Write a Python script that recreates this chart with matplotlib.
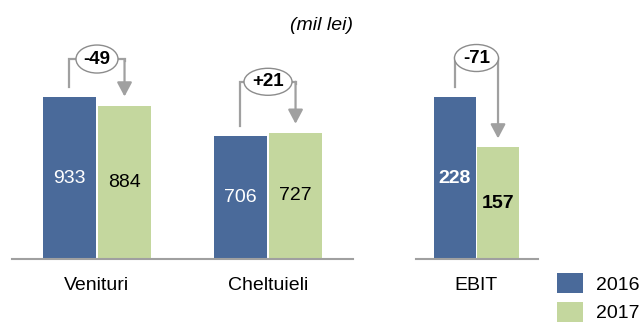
import matplotlib
matplotlib.use('Agg')
import matplotlib.pyplot as plt
from matplotlib.patches import Ellipse
from matplotlib.transforms import ScaledTranslation

plt.rcParams['font.family'] = ['Liberation Sans', 'DejaVu Sans']

# valori (mil lei)
cat_main = ['Venituri', 'Cheltuieli']
v2016_main = [933, 706]
v2017_main = [884, 727]
diff_main = ['-49', '+21']

cat_ebit = ['EBIT']
v2016_ebit = [228]
v2017_ebit = [157]
diff_ebit = ['-71']

years = ['2016', '2017']

BLUE = '#4A6A9A'
GREEN = '#C4D79E'
GRAY = '#A0A0A0'

W, H = 643, 324
DPI = 100

fig = plt.figure(figsize=(W / DPI, H / DPI), dpi=DPI)


def px_axes(x0, x1, ybase, ytop):
    # axes placed in pixel coordinates (y measured from top)
    return fig.add_axes([x0 / W, (H - ybase) / H, (x1 - x0) / W, (ybase - ytop) / H])


def style(ax):
    for s in ['top', 'right', 'left']:
        ax.spines[s].set_visible(False)
    ax.spines['bottom'].set_color(GRAY)
    ax.spines['bottom'].set_linewidth(1.5)
    ax.set_yticks([])
    ax.tick_params(axis='x', length=0, pad=13, labelsize=14)


def py(ax, px):
    # convert a pixel height into data units of the given axes
    h = ax.get_position().height * H
    lo, hi = ax.get_ylim()
    return px * (hi - lo) / h


def bracket(ax, x1, x2, y1, y2, top_px, text, ew, eh):
    ya = y1 + py(ax, 10)
    yb = y2 + py(ax, 9)
    yt = max(y1, y2) + py(ax, top_px)
    ax.plot([x1, x1, x2, x2], [ya, yt, yt, yt - py(ax, 2)], color=GRAY, lw=1.6,
            solid_joinstyle='miter', zorder=3)
    ax.annotate('', xy=(x2, yb), xytext=(x2, yt),
                arrowprops=dict(arrowstyle='-|>,head_width=0.45,head_length=0.85',
                                color=GRAY, lw=1.6, shrinkA=0, shrinkB=0,
                                mutation_scale=10), zorder=3)
    xm = (x1 + x2) / 2
    tr = fig.dpi_scale_trans + ScaledTranslation(xm, yt, ax.transData)
    ax.add_patch(Ellipse((0, 0), ew / DPI, eh / DPI, transform=tr, fc='white',
                         ec='#8C8C8C', lw=1.0, zorder=4, clip_on=False))
    ax.text(xm, yt, text, ha='center', va='center', fontsize=13.5,
            fontweight='bold', zorder=5)


def draw(ax, cats, a, b, diffs, width, off, labels_bold, tops, ells):
    xs = list(range(len(cats)))
    b1 = ax.bar([x - off for x in xs], a, width, color=BLUE, zorder=2)
    b2 = ax.bar([x + off for x in xs], b, width, color=GREEN, zorder=2)
    fw = 'bold' if labels_bold else 'normal'
    for x, va, vb, d, t, e in zip(xs, a, b, diffs, tops, ells):
        ax.text(x - off, va / 2, str(va), ha='center', va='center', color='white',
                fontsize=14, fontweight=fw, zorder=3)
        ax.text(x + off, vb / 2, str(vb), ha='center', va='center', color='black',
                fontsize=14, fontweight=fw, zorder=3)
        bracket(ax, x - off, x + off, va, vb, t, d, *e)
    ax.set_xticks(xs)
    ax.set_xticklabels(cats)
    return b1, b2


ax1 = px_axes(12, 353, 259, 20)
ax1.set_xlim(-0.497, 1.497)
ax1.set_ylim(0, 239 / 0.1736)
style(ax1)
h1, h2 = draw(ax1, cat_main, v2016_main, v2017_main, diff_main, 0.31, 0.161, False,
              [38, 51], [(42, 28), (48, 27)])

ax2 = px_axes(416, 538, 259, 20)
ax2.set_xlim(-0.354, 0.36)
ax2.set_ylim(0, 239 / 0.7105)
style(ax2)
draw(ax2, cat_ebit, v2016_ebit, v2017_ebit, diff_ebit, 0.25, 0.126, True,
     [39], [(44, 27)])

fig.text(321 / W, 1 - 26 / H, '(mil lei)', ha='center', va='center',
         fontsize=14, style='italic')

fig.legend([h1, h2], years, loc='upper left', bbox_to_anchor=(557 / W, 1 - 273 / H),
           frameon=False, borderpad=0, borderaxespad=0, fontsize=14,
           handlelength=1.35, handleheight=1.21, handletextpad=0.65,
           labelspacing=0.42)

fig.savefig('out.png', dpi=DPI)
